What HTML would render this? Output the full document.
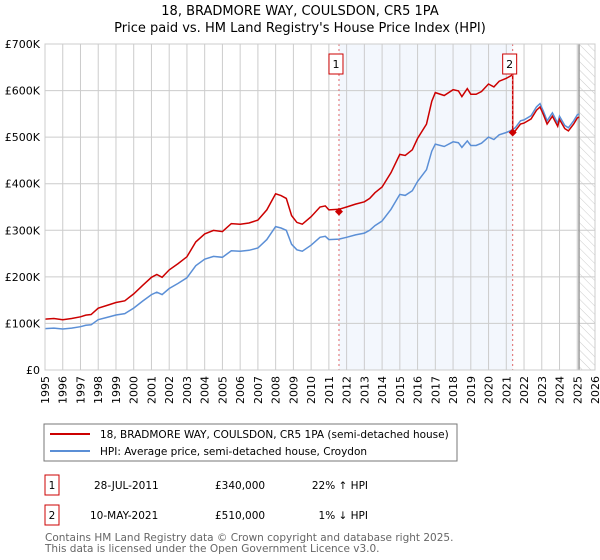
<!DOCTYPE html>
<html><head><meta charset="utf-8"><style>
body{margin:0;background:#fff;font-family:"DejaVu Sans","Liberation Sans",sans-serif;}
#wrap{position:relative;width:600px;height:560px;overflow:hidden}
</style></head><body>
<div id="wrap">
<svg id="chart" width="600" height="560" xmlns="http://www.w3.org/2000/svg" font-family="DejaVu Sans, Liberation Sans, sans-serif">
<defs><pattern id="hatch" width="6" height="6" patternUnits="userSpaceOnUse" patternTransform="rotate(-45)"><line x1="0" y1="0" x2="0" y2="6" stroke="#ccc" stroke-width="1"/></pattern></defs>
<text x="300" y="15" text-anchor="middle" font-size="13">18, BRADMORE WAY, COULSDON, CR5 1PA</text>
<text x="300" y="32" text-anchor="middle" font-size="13">Price paid vs. HM Land Registry's House Price Index (HPI)</text>
<g id="grid"></g><g id="marks"></g>
<rect x="44" y="424" width="413" height="37" fill="#fff" stroke="#777"/>
<line x1="50" y1="434" x2="90" y2="434" stroke="#cc0000" stroke-width="2"/>
<text x="100" y="438" font-size="10.5">18, BRADMORE WAY, COULSDON, CR5 1PA (semi-detached house)</text>
<line x1="50" y1="451" x2="90" y2="451" stroke="#5b8fd6" stroke-width="2"/>
<text x="100" y="455" font-size="10.5">HPI: Average price, semi-detached house, Croydon</text>
<rect x="45" y="475" width="14" height="20" fill="#fff" stroke="#cc0000"/>
<text x="52" y="489" font-size="10.5" text-anchor="middle">1</text>
<text x="94" y="489" font-size="10.5">28-JUL-2011</text>
<text x="215" y="489" font-size="10.5">£340,000</text>
<text x="368" y="489" font-size="10.5" text-anchor="end">22% ↑ HPI</text>
<rect x="45" y="505" width="14" height="20" fill="#fff" stroke="#cc0000"/>
<text x="52" y="519" font-size="10.5" text-anchor="middle">2</text>
<text x="90" y="519" font-size="10.5">10-MAY-2021</text>
<text x="215" y="519" font-size="10.5">£510,000</text>
<text x="368" y="519" font-size="10.5" text-anchor="end">1% ↓ HPI</text>
<text x="45" y="541" font-size="10.5" fill="#666">Contains HM Land Registry data © Crown copyright and database right 2025.</text>
<text x="45" y="552" font-size="10.5" fill="#666">This data is licensed under the Open Government Licence v3.0.</text>
</svg></div>
<script>
const yearTicks=[1995,1996,1997,1998,1999,2000,2001,2002,2003,2004,2005,2006,2007,2008,2009,2010,2011,2012,2013,2014,2015,2016,2017,2018,2019,2020,2021,2022,2023,2024,2025,2026];
const valueTicks=[0,100000,200000,300000,400000,500000,600000,700000];
const valueTickLabels=["£0","£100K","£200K","£300K","£400K","£500K","£600K","£700K"];
const hpiDates=[1995,1995.5,1996,1996.5,1997,1997.3,1997.6,1998,1998.5,1999,1999.5,2000,2000.5,2001,2001.3,2001.6,2002,2002.5,2003,2003.5,2004,2004.5,2005,2005.5,2006,2006.5,2007,2007.5,2008,2008.3,2008.6,2008.9,2009.2,2009.5,2010,2010.5,2010.8,2011,2011.57,2012,2012.5,2013,2013.3,2013.6,2014,2014.5,2015,2015.3,2015.7,2016,2016.5,2016.8,2017,2017.5,2018,2018.3,2018.5,2018.8,2019,2019.3,2019.6,2020,2020.3,2020.6,2021,2021.3,2021.5,2021.8,2022,2022.4,2022.7,2022.9,2023.1,2023.3,2023.6,2023.9,2024,2024.3,2024.5,2024.8,2025,2025.1];
const hpiValues=[89000,90000,88000,90000,93000,96000,97000,108000,113000,118000,121000,133000,148000,162000,167000,162000,175000,186000,198000,224000,238000,244000,242000,256000,255000,257000,262000,280000,308000,305000,300000,270000,258000,255000,268000,285000,287000,280000,281000,285000,290000,294000,300000,310000,320000,345000,377000,375000,385000,405000,430000,470000,485000,480000,490000,488000,478000,492000,482000,482000,487000,500000,495000,505000,510000,515000,520000,535000,537000,546000,565000,572000,555000,535000,552000,530000,545000,525000,520000,535000,548000,550000];
const sale1Date=2011.57, sale1Price=340000, sale2Date=2021.36, sale2Price=510000;
const svgNS="http://www.w3.org/2000/svg";
const X0=45,X1=595,Y0=370,Y1=44;
const xs=y=>X0+(y-1995)/(2026-1995)*(X1-X0);
const ys=v=>Y0-v/700000*(Y0-Y1);
function mk(tag,attrs,parent){const e=document.createElementNS(svgNS,tag);for(const k in attrs)e.setAttribute(k,attrs[k]);parent.appendChild(e);return e;}
const grid=document.getElementById('grid'),marks=document.getElementById('marks');
let r=mk('rect',{x:xs(sale1Date),y:Y1,width:xs(sale2Date)-xs(sale1Date),height:Y0-Y1,fill:'#eef3fc',opacity:0.7},grid);


let h=mk('rect',{x:xs(2025.1),y:Y1,width:X1-xs(2025.1),height:Y0-Y1,fill:'url(#hatch)'},grid);


yearTicks.forEach(y=>{const l=mk('line',{x1:xs(y),y1:Y1,x2:xs(y),y2:Y0,stroke:'#ccc'},grid);


const t=mk('text',{x:0,y:0,'font-size':11,'text-anchor':'end',transform:`translate(${xs(y)+4},${Y0+6}) rotate(-90)`},grid);t.textContent=y;

});
valueTicks.forEach((v,i)=>{const l=mk('line',{x1:X0,y1:ys(v),x2:X1,y2:ys(v),stroke:'#ccc'},grid);


const t=mk('text',{x:X0-5,y:ys(v)+4,'font-size':11,'text-anchor':'end'},grid);t.textContent=valueTickLabels[i];

});
let cl=mk('line',{x1:xs(2025.1),y1:Y1,x2:xs(2025.1),y2:Y0,stroke:'#999','stroke-width':1.5},grid);


function hpiAt(d){for(let i=1;i<hpiDates.length;i++){if(d<=hpiDates[i]){const t=(d-hpiDates[i-1])/(hpiDates[i]-hpiDates[i-1]);return hpiValues[i-1]+t*(hpiValues[i]-hpiValues[i-1]);}}return hpiValues[hpiValues.length-1];}
const f1=sale1Price/hpiAt(sale1Date)*1.015, f2=sale2Price/hpiAt(sale2Date);
let hp=hpiDates.map((d,i)=>`${xs(d).toFixed(1)},${ys(hpiValues[i]).toFixed(1)}`).join(' ');
let hl=mk('polyline',{points:hp,fill:'none',stroke:'#5b8fd6','stroke-width':1.5},marks);


let rp=[];hpiDates.forEach((d,i)=>{if(d<sale2Date)rp.push([d,hpiValues[i]*f1]);});
rp.push([sale2Date,hpiAt(sale2Date)*f1]);rp.push([sale2Date,sale2Price]);
hpiDates.forEach((d,i)=>{if(d>sale2Date)rp.push([d,hpiValues[i]*f2]);});
let pl=mk('polyline',{points:rp.map(p=>`${xs(p[0]).toFixed(1)},${ys(p[1]).toFixed(1)}`).join(' '),fill:'none',stroke:'#cc0000','stroke-width':1.5},marks);


[[sale1Date,sale1Price,'1'],[sale2Date,sale2Price,'2']].forEach(s=>{
const vl=mk('line',{x1:xs(s[0]),y1:Y1,x2:xs(s[0]),y2:Y0,stroke:'#e06666','stroke-dasharray':'2,3'},marks);


const b=mk('rect',{x:xs(s[0])-10,y:54,width:14,height:20,fill:'#fff',stroke:'#cc0000'},marks);


const t=mk('text',{x:xs(s[0])-3,y:68,'font-size':11,'text-anchor':'middle'},marks);t.textContent=s[2];


const x=xs(s[0]),y=ys(s[1]);
const d=mk('polygon',{points:`${x},${y-4} ${x+4},${y} ${x},${y+4} ${x-4},${y}`,fill:'#cc0000'},marks);

});
let fr=mk('rect',{x:X0,y:Y1,width:X1-X0,height:Y0-Y1,fill:'none',stroke:'#ccc'},marks);


</script>
</body></html>
